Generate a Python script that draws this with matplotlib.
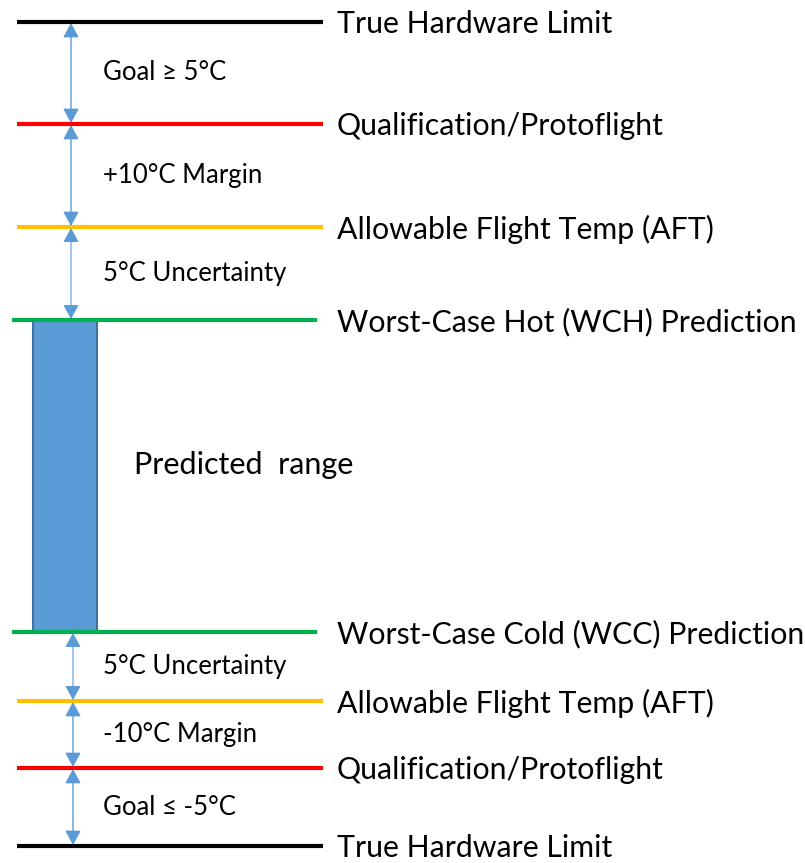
import matplotlib.pyplot as plt
from matplotlib.patches import Rectangle

# level positions (diagram units, top = 0) and their labels / colours
level_y = [22, 124, 227, 320, 632, 701, 768, 846]
level_labels = ["True Hardware Limit", "Qualification/Protoflight", "Allowable Flight Temp (AFT)",
                "Worst-Case Hot (WCH) Prediction", "Worst-Case Cold (WCC) Prediction",
                "Allowable Flight Temp (AFT)", "Qualification/Protoflight", "True Hardware Limit"]
level_colors = ["#000000", "#FF0000", "#FFC000", "#00B050", "#00B050", "#FFC000", "#FF0000", "#000000"]

# gaps between levels (index pairs) and their labels
gaps = [(0, 1), (1, 2), (2, 3), (4, 5), (5, 6), (6, 7)]
gap_labels = ["Goal ≥ 5°C", "+10°C Margin", "5°C Uncertainty",
              "5°C Uncertainty", "-10°C Margin", "Goal ≤ -5°C"]

plt.rcParams['font.family'] = ['Lato', 'DejaVu Sans']

fig = plt.figure(figsize=(8.05, 8.63), dpi=100)
ax = fig.add_axes([0, 0, 1, 1])
ax.set_xlim(0, 805)
ax.set_ylim(863, 0)
ax.axis("off")

# predicted range bar
ax.add_patch(Rectangle((33, level_y[3]), 64, level_y[4] - level_y[3],
                       facecolor="#5B9BD5", edgecolor="#41719C", linewidth=1.5, zorder=1))
ax.text(134, 465, "Predicted  range", fontsize=22, va="center", ha="left")

for y, lab, c in zip(level_y, level_labels, level_colors):
    x0, x1 = (12, 317) if c == "#00B050" else (17, 323)
    ax.plot([x0, x1], [y, y], color=c, linewidth=3, solid_capstyle="butt", zorder=2)
    ax.text(337, y + 2, lab, fontsize=21.8, va="center", ha="left")

for (i, j), lab in zip(gaps, gap_labels):
    y0, y1 = level_y[i], level_y[j]
    xa = 71 if i < 4 else 73
    lw = 0.8 if "Uncertainty" in lab else 1.0
    ax.annotate("", xy=(xa, y1 - 1), xytext=(xa, y0 + 1),
                arrowprops=dict(arrowstyle="<|-|>,head_length=0.55,head_width=0.3",
                                color="#5B9BD5", lw=lw, mutation_scale=16,
                                shrinkA=0, shrinkB=0), zorder=3)
    ax.text(103, (y0 + y1) / 2, lab, fontsize=18.5, va="center", ha="left")

fig.savefig("out.png", dpi=100)
